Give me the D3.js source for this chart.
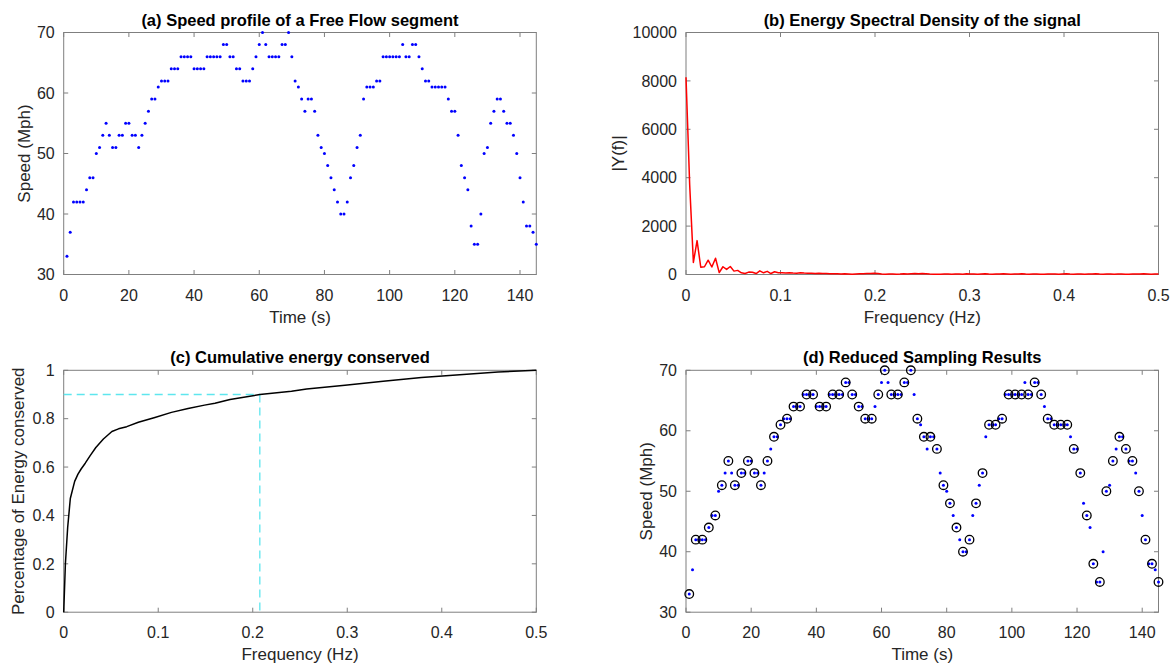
<!DOCTYPE html>
<html><head><meta charset="utf-8">
<script src="https://cdn.jsdelivr.net/npm/d3@7"></script>
<style>
body{margin:0;background:#fff;}
svg{display:block;font-family:"Liberation Sans",Arial,Helvetica,sans-serif;}
</style></head><body>
<svg id="chart" width="1174" height="667"></svg>
<script>
// ---- data ----
const speed = [33,37,42,42,42,42,44,46,46,50,
  51,53,55,53,51,51,53,53,55,55,
  53,53,51,53,55,57,59,59,61,62,
  62,62,64,64,64,66,66,66,66,64,
  64,64,64,66,66,66,66,66,68,68,
  66,66,64,64,62,62,62,64,66,68,
  70,68,66,66,66,66,68,68,70,66,
  62,61,59,57,59,59,57,53,51,50,
  48,46,44,42,40,40,42,46,48,51,
  53,59,61,61,61,62,62,66,66,66,
  66,66,66,68,66,66,68,68,66,64,
  62,62,61,61,61,61,61,59,57,57,
  53,48,46,44,38,35,35,40,50,51,
  55,57,59,59,57,55,55,53,50,46,
  42,38,38,37,35];
const timeTicks = [0,20,40,60,80,100,120,140];
const speedTicks = [30,40,50,60,70];

const esd = [8150,3700,500,1400,300,320,590,310,670,80,
  320,210,330,140,170,70,40,100,95,40,
  150,70,130,40,115,70,75,65,70,60,
  55,75,60,50,55,45,50,40,40,35,
  30,35,25,30,20,10,20,30,35,40,
  45,50,40,25,15,20,25,15,20,30,
  25,35,40,35,40,30,20,15,10,15,
  25,20,15,25,20,15,30,25,20,15,
  25,30,20,15,25,20,30,25,15,20,
  25,30,20,15,20,25,15,10,20,25,
  20,15,25,30,20,15,20,25,15,20,
  25,30,20,15,25,20,15,20,25,15,
  10,20,25,20,30,25,15,20,25];
const esdTicks = [0,2000,4000,6000,8000,10000];
const freqTicks = [0,0.1,0.2,0.3,0.4,0.5];

const cumFreq =   [0,0.0018,0.0042,0.007,0.0116,0.0151,0.0186,0.0228,0.028,0.034,0.042,0.051,0.058,0.0667,0.079,0.0965,0.114,0.1316,0.149,0.16,0.176,0.2075,0.241,0.257,0.2976,0.338,0.3785,0.419,0.4595,0.5];
const cumEnergy = [0,0.2,0.35,0.47,0.541,0.571,0.593,0.616,0.647,0.681,0.716,0.747,0.758,0.767,0.785,0.805,0.826,0.842,0.856,0.864,0.879,0.9,0.913,0.923,0.938,0.955,0.97,0.982,0.993,1.0];
const energyTicks = [0,0.2,0.4,0.6,0.8,1];
const thresholdFreq = [0.2075];
const thresholdEnergy = [0.9];

// ---- helpers ----
const svg = d3.select("#chart");
const AX = "#7f7f7f", TXT = "#262626";
const L = [{x0:63.7,x1:536.3},{x0:686,x1:1158.5}];
const R = [{y0:32.5,y1:274.5},{y0:370.3,y1:612.2}];
const fmt = d => (d===0?"0":String(d));

function panel(col,row,xDom,yDom,xT,yT,title,xlab,ylab,ylabX){
  const x = d3.scaleLinear().domain(xDom).range([L[col].x0,L[col].x1]);
  const y = d3.scaleLinear().domain(yDom).range([R[row].y1,R[row].y0]);
  const x0=L[col].x0,x1=L[col].x1,y0=R[row].y0,y1=R[row].y1;
  const tl=4.5;
  const ax = svg.append("g");
  ax.append("rect").attr("x",x0).attr("y",y0).attr("width",x1-x0).attr("height",y1-y0)
    .attr("fill","none").attr("stroke",AX).attr("stroke-width",1);
  xT.forEach(t=>{
    const px=x(t);
    ax.append("line").attr("x1",px).attr("x2",px).attr("y1",y1).attr("y2",y1-tl).attr("stroke",AX);
    ax.append("line").attr("x1",px).attr("x2",px).attr("y1",y0).attr("y2",y0+tl).attr("stroke",AX);
    ax.append("text").attr("x",px).attr("y",y1+26).attr("text-anchor","middle")
      .attr("font-size",16).attr("fill",TXT).text(fmt(t));
  });
  yT.forEach(t=>{
    const py=y(t);
    ax.append("line").attr("x1",x0).attr("x2",x0+tl).attr("y1",py).attr("y2",py).attr("stroke",AX);
    ax.append("line").attr("x1",x1).attr("x2",x1-tl).attr("y1",py).attr("y2",py).attr("stroke",AX);
    ax.append("text").attr("x",x0-9).attr("y",py+5.7).attr("text-anchor","end")
      .attr("font-size",16).attr("fill",TXT).text(fmt(t));
  });
  ax.append("text").attr("x",(x0+x1)/2).attr("y",y0-7).attr("text-anchor","middle")
    .attr("font-size",16.5).attr("font-weight","bold").attr("fill","#000").text(title);
  ax.append("text").attr("x",(x0+x1)/2).attr("y",y1+48).attr("text-anchor","middle")
    .attr("font-size",17).attr("fill",TXT).text(xlab);
  ax.append("text").attr("transform",`translate(${ylabX},${(y0+y1)/2}) rotate(-90)`)
    .attr("text-anchor","middle").attr("font-size",17).attr("fill",TXT).text(ylab);
  const g = svg.append("g");
  return {x,y,g};
}

const times = speed.map((v,i)=>i+1);

// (a)
const pa = panel(0,0,[0,145],[30,70],timeTicks,speedTicks,
  "(a) Speed profile of a Free Flow segment","Time (s)","Speed (Mph)",30);
pa.g.selectAll("circle").data(speed).join("circle")
  .attr("cx",(d,i)=>pa.x(times[i])).attr("cy",d=>pa.y(d)).attr("r",1.5).attr("fill","#0000ff");

// (b)
const pb = panel(1,0,[0,0.5],[0,10000],freqTicks,esdTicks,
  "(b) Energy Spectral Density of the signal","Frequency (Hz)","|Y(f)|",624);
const esdFreq = esd.map((v,i)=>i/256);
pb.g.append("path").datum(esd)
  .attr("d",d3.line().x((d,i)=>pb.x(esdFreq[i])).y(d=>pb.y(d)))
  .attr("fill","none").attr("stroke","#ff0000").attr("stroke-width",1.5).attr("stroke-linejoin","round");

// (c)
const pc = panel(0,1,[0,0.5],[0,1],freqTicks,energyTicks,
  "(c) Cumulative energy conserved","Frequency (Hz)","Percentage of Energy conserved",24);
pc.g.append("line").attr("x1",pc.x(0)).attr("x2",pc.x(thresholdFreq[0]))
  .attr("y1",pc.y(thresholdEnergy[0])).attr("y2",pc.y(thresholdEnergy[0]))
  .attr("stroke","#5ee6ee").attr("stroke-width",1.3).attr("stroke-dasharray","8,5");
pc.g.append("line").attr("x1",pc.x(thresholdFreq[0])).attr("x2",pc.x(thresholdFreq[0]))
  .attr("y1",pc.y(thresholdEnergy[0])).attr("y2",pc.y(0))
  .attr("stroke","#5ee6ee").attr("stroke-width",1.3).attr("stroke-dasharray","8,5");
pc.g.append("path").datum(cumEnergy)
  .attr("d",d3.line().x((d,i)=>pc.x(cumFreq[i])).y(d=>pc.y(d)))
  .attr("fill","none").attr("stroke","#000").attr("stroke-width",1.5).attr("stroke-linejoin","round");

// (d)
const pd = panel(1,1,[0,145],[30,70],timeTicks,speedTicks,
  "(d) Reduced Sampling Results","Time (s)","Speed (Mph)",652);
pd.g.selectAll("circle.dot").data(speed).join("circle").attr("class","dot")
  .attr("cx",(d,i)=>pd.x(times[i])).attr("cy",d=>pd.y(d)).attr("r",1.5).attr("fill","#0000ff");
const reduced = speed.map((v,i)=>({t:times[i],v})).filter(d=>d.t%2===1);
pd.g.selectAll("circle.ring").data(reduced).join("circle").attr("class","ring")
  .attr("cx",d=>pd.x(d.t)).attr("cy",d=>pd.y(d.v)).attr("r",4.3)
  .attr("fill","none").attr("stroke","#000").attr("stroke-width",1.3);
</script>
</body></html>
